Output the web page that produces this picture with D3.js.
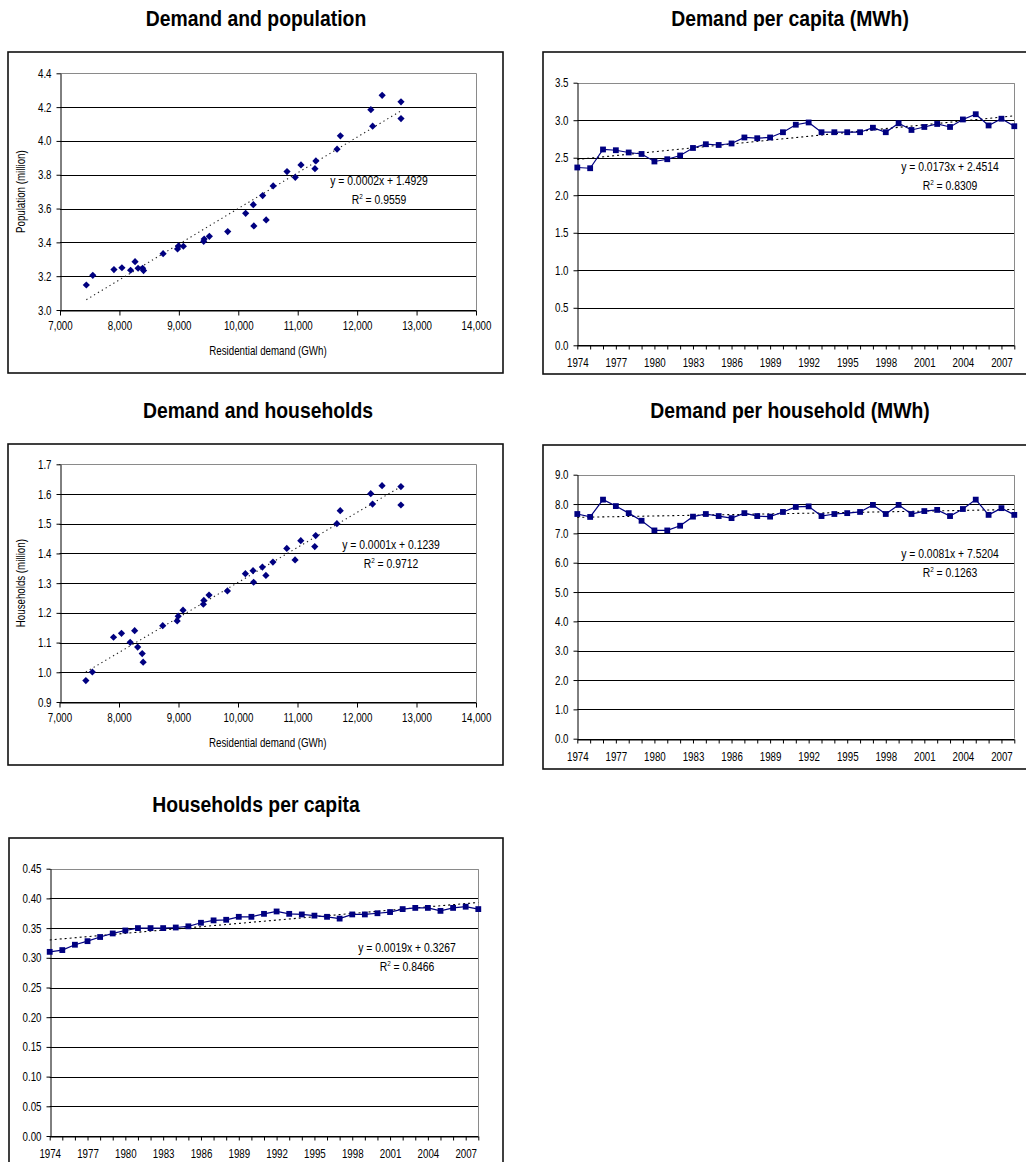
<!DOCTYPE html>
<html>
<head>
<meta charset="utf-8">
<script src="https://cdn.jsdelivr.net/npm/d3@7"></script>
<style>
  body { margin: 0; background: #fff; }
  svg { display: block; }
  text { font-family: "Liberation Sans", Arial, sans-serif; fill: #000; }
</style>
</head>
<body>
<svg id="chart" width="1026" height="1162"></svg>
<script>
// ---- Data -------------------------------------------------------------

// Residential demand (GWh), population and households (million), sorted by demand
const demand = [7443, 7552, 7908, 8042, 8188, 8263, 8314, 8390, 8406, 8735,
                8978, 8995, 9076, 9418, 9426, 9513, 9822, 10124, 10253, 10262,
                10410, 10469, 10587, 10820, 10959, 11055, 11290, 11306, 11662, 11718,
                12231, 12261, 12421, 12738, 12738];
const population = [3.148, 3.205, 3.239, 3.250, 3.235, 3.286, 3.247, 3.247, 3.233, 3.333,
                    3.361, 3.379, 3.377, 3.406, 3.420, 3.436, 3.464, 3.572, 3.623, 3.497,
                    3.677, 3.533, 3.734, 3.819, 3.785, 3.858, 3.836, 3.882, 3.951, 4.030,
                    4.185, 4.087, 4.270, 4.231, 4.132];
const households = [0.972, 1.001, 1.118, 1.131, 1.101, 1.140, 1.085, 1.063, 1.034, 1.157,
                    1.173, 1.189, 1.209, 1.229, 1.242, 1.260, 1.274, 1.332, 1.342, 1.303,
                    1.354, 1.326, 1.371, 1.417, 1.378, 1.443, 1.423, 1.460, 1.500, 1.544,
                    1.601, 1.566, 1.628, 1.625, 1.563];

// Annual series, 1974-2008
const years = [1974, 1975, 1976, 1977, 1978, 1979, 1980, 1981, 1982, 1983,
               1984, 1985, 1986, 1987, 1988, 1989, 1990, 1991, 1992, 1993,
               1994, 1995, 1996, 1997, 1998, 1999, 2000, 2001, 2002, 2003,
               2004, 2005, 2006, 2007, 2008];
const demandPerCapita = [2.37, 2.36, 2.61, 2.60, 2.57, 2.55, 2.45, 2.48, 2.53, 2.63,
                         2.68, 2.67, 2.69, 2.77, 2.76, 2.77, 2.84, 2.94, 2.97, 2.84,
                         2.84, 2.84, 2.84, 2.90, 2.84, 2.96, 2.87, 2.91, 2.95, 2.91,
                         3.01, 3.08, 2.93, 3.02, 2.92];
const demandPerHousehold = [7.66, 7.56, 8.15, 7.93, 7.69, 7.43, 7.10, 7.10, 7.26, 7.57,
                            7.66, 7.59, 7.52, 7.69, 7.59, 7.57, 7.73, 7.90, 7.92, 7.59,
                            7.66, 7.69, 7.73, 7.97, 7.66, 7.97, 7.66, 7.76, 7.80, 7.59,
                            7.83, 8.15, 7.63, 7.86, 7.63];
const householdsPerCapita = [0.310, 0.313, 0.322, 0.328, 0.335, 0.341, 0.346, 0.350, 0.350, 0.350,
                             0.351, 0.353, 0.359, 0.363, 0.364, 0.369, 0.369, 0.374, 0.378, 0.374,
                             0.373, 0.371, 0.369, 0.366, 0.373, 0.373, 0.375, 0.377, 0.382, 0.384,
                             0.384, 0.379, 0.384, 0.386, 0.382];

// Tick values and labels
const demandTicks = [7000, 8000, 9000, 10000, 11000, 12000, 13000, 14000];
const populationTicks = [3.0, 3.2, 3.4, 3.6, 3.8, 4.0, 4.2, 4.4];
const householdTicks = [0.9, 1.0, 1.1, 1.2, 1.3, 1.4, 1.5, 1.6, 1.7];
const perCapitaTicks = [0.0, 0.5, 1.0, 1.5, 2.0, 2.5, 3.0, 3.5];
const perHouseholdTicks = [0.0, 1.0, 2.0, 3.0, 4.0, 5.0, 6.0, 7.0, 8.0, 9.0];
const hhPerCapitaTicks = [0.00, 0.05, 0.10, 0.15, 0.20, 0.25, 0.30, 0.35, 0.40, 0.45];
const yearLabels = [1974, 1977, 1980, 1983, 1986, 1989, 1992, 1995, 1998, 2001, 2004, 2007];

// Trend-line equations as printed on each chart
const eqPopulation = ["y = 0.0002x + 1.4929", "0.9559"];
const eqHouseholds = ["y = 0.0001x + 0.1239", "0.9712"];
const eqPerCapita = ["y = 0.0173x + 2.4514", "0.8309"];
const eqPerHousehold = ["y = 0.0081x + 7.5204", "0.1263"];
const eqHhPerCapita = ["y = 0.0019x + 0.3267", "0.8466"];

// ---- Drawing ----------------------------------------------------------

const svg = d3.select("#chart");
svg.append("rect").attr("width", 1026).attr("height", 1162).attr("fill", "#fff");

const NAVY = "#000080";

// Condensed lettering: squeeze text horizontally about its anchor x
function narrow(sel, s) {
  sel.each(function () {
    const t = d3.select(this);
    const x = +(t.attr("x") || 0);
    t.attr("transform", `translate(${x},0) scale(${s},1) translate(${-x},0)`);
  });
}

// Ordinary least-squares fit, as used for the trend lines
function linearFit(xs, ys) {
  const n = xs.length;
  const mx = d3.mean(xs), my = d3.mean(ys);
  let sxy = 0, sxx = 0;
  for (let i = 0; i < n; i++) { sxy += (xs[i] - mx) * (ys[i] - my); sxx += (xs[i] - mx) ** 2; }
  const m = sxy / sxx;
  return { m, b: my - m * mx };
}

function frame(cfg) {
  const [bx0, by0, bx1, by1] = cfg.box;
  svg.append("rect")
    .attr("x", bx0).attr("y", by0).attr("width", bx1 - bx0).attr("height", by1 - by0)
    .attr("fill", "#fff").attr("stroke", "#111").attr("stroke-width", 1.6);
  svg.append("text")
    .attr("x", cfg.titleX).attr("y", cfg.titleY)
    .attr("text-anchor", "middle")
    .style("font-size", "22px").style("font-weight", "bold")
    .text(cfg.title)
    .call(narrow, 0.88);
}

function gridAndAxes(g, x, y, cfg, xAxis) {
  const [px0, py0, px1, py1] = cfg.plot;
  // horizontal gridlines
  g.append("g").selectAll("line").data(cfg.yTicks).join("line")
    .attr("x1", px0).attr("x2", px1)
    .attr("y1", d => Math.round(y(d)) + 0.5).attr("y2", d => Math.round(y(d)) + 0.5)
    .attr("stroke", "#000").attr("stroke-width", 1);
  // plot-area border (grey)
  g.append("path")
    .attr("d", `M${px0},${Math.round(py0) + 0.5}H${Math.round(px1) + 0.5}V${py1}`)
    .attr("fill", "none").attr("stroke", "#8a8a8a").attr("stroke-width", 1);

  const yAxis = d3.axisLeft(y).tickValues(cfg.yTicks).tickFormat(cfg.yFmt)
    .tickSize(4).tickSizeOuter(0).tickPadding(5);
  const ya = g.append("g").attr("transform", `translate(${Math.round(px0) + 0.5},0)`).call(yAxis);
  const xa = g.append("g").attr("transform", `translate(0,${Math.round(py1) + 0.5})`).call(xAxis);
  [ya, xa].forEach(a => {
    a.attr("font-family", null).attr("font-size", null);
    a.selectAll("path.domain").attr("stroke", "#000");
    a.selectAll(".tick line").attr("stroke", "#000");
    a.selectAll("text").style("font-size", "12.5px").attr("fill", "#000").call(narrow, 0.78);
  });
}

function equation(g, cfg) {
  g.append("text").attr("x", cfg.eqX).attr("y", cfg.eqY).attr("text-anchor", "middle")
    .style("font-size", "13px").text(cfg.eq[0]).call(narrow, 0.8);
  const r = g.append("text").attr("x", cfg.eqX).attr("y", cfg.eqY + 19).attr("text-anchor", "middle")
    .style("font-size", "13px");
  r.append("tspan").text("R");
  r.append("tspan").attr("dy", -5).style("font-size", "8px").text("2");
  r.append("tspan").attr("dy", 5).text(" = " + cfg.eq[1]);
  r.call(narrow, 0.8);
}

function scatterPanel(cfg) {
  frame(cfg);
  const [px0, py0, px1, py1] = cfg.plot;
  const g = svg.append("g");
  const x = d3.scaleLinear().domain([7000, 14000]).range([px0, px1]);
  const y = d3.scaleLinear().domain(d3.extent(cfg.yTicks)).range([py1, py0]);

  const xAxis = d3.axisBottom(x).tickValues(demandTicks).tickFormat(d3.format(","))
    .tickSize(5).tickSizeOuter(0).tickPadding(6);
  gridAndAxes(g, x, y, cfg, xAxis);

  // axis titles
  g.append("text").attr("x", (px0 + px1) / 2).attr("y", py1 + 45)
    .attr("text-anchor", "middle").style("font-size", "12.5px").text(cfg.xLabel)
    .call(narrow, 0.78);
  g.append("text")
    .attr("transform", `translate(${cfg.yLabelX},${(py0 + py1) / 2}) rotate(-90) scale(0.78,1)`)
    .attr("text-anchor", "middle").style("font-size", "12.5px").text(cfg.yLabel);

  // trend line
  const fit = linearFit(cfg.xs, cfg.ys);
  const [xmin, xmax] = d3.extent(cfg.xs);
  g.append("line")
    .attr("x1", x(xmin)).attr("y1", y(fit.m * xmin + fit.b))
    .attr("x2", x(xmax)).attr("y2", y(fit.m * xmax + fit.b))
    .attr("stroke", "#222").attr("stroke-width", 1.1).attr("stroke-dasharray", "1.3,3.2");

  // diamond markers
  const diamond = "M0,-3.6L3.6,0L0,3.6L-3.6,0Z";
  g.append("g").selectAll("path").data(cfg.xs.map((v, i) => [v, cfg.ys[i]])).join("path")
    .attr("d", diamond)
    .attr("transform", d => `translate(${x(d[0])},${y(d[1])})`)
    .attr("fill", NAVY);

  equation(g, cfg);
}

function linePanel(cfg) {
  frame(cfg);
  const [px0, py0, px1, py1] = cfg.plot;
  const g = svg.append("g");
  const x = d3.scalePoint().domain(years).range([px0, px1]).padding(0);
  const y = d3.scaleLinear().domain(d3.extent(cfg.yTicks)).range([py1, py0]);

  const xAxis = d3.axisBottom(x).tickValues(years)
    .tickFormat(d => yearLabels.includes(d) ? String(d) : "")
    .tickSize(4).tickSizeOuter(0).tickPadding(9);
  gridAndAxes(g, x, y, cfg, xAxis);

  // trend line (x = 1 .. n)
  const idx = years.map((d, i) => i + 1);
  const fit = linearFit(idx, cfg.values);
  g.append("line")
    .attr("x1", x(years[0])).attr("y1", y(fit.m * 1 + fit.b))
    .attr("x2", x(years[years.length - 1])).attr("y2", y(fit.m * years.length + fit.b))
    .attr("stroke", "#000").attr("stroke-width", 1.1).attr("stroke-dasharray", "2,3");

  // series line and square markers
  const line = d3.line().x((d, i) => x(years[i])).y(d => y(d));
  g.append("path").datum(cfg.values).attr("d", line)
    .attr("fill", "none").attr("stroke", NAVY).attr("stroke-width", 1.2);
  g.append("g").selectAll("rect").data(cfg.values).join("rect")
    .attr("x", (d, i) => x(years[i]) - 2.9).attr("y", d => y(d) - 2.9)
    .attr("width", 5.8).attr("height", 5.8).attr("fill", NAVY);

  equation(g, cfg);
}

scatterPanel({
  title: "Demand and population", titleX: 256, titleY: 26,
  box: [8, 52, 503, 373], plot: [60, 73.3, 476, 310],
  yTicks: populationTicks, yFmt: d3.format(".1f"),
  xLabel: "Residential demand (GWh)", yLabel: "Population (million)", yLabelX: 25,
  xs: demand, ys: population,
  eq: eqPopulation, eqX: 379, eqY: 185
});

linePanel({
  title: "Demand per capita (MWh)", titleX: 790, titleY: 26,
  box: [543, 52, 1040, 374], plot: [577.3, 82.7, 1014.3, 345.3],
  yTicks: perCapitaTicks, yFmt: d3.format(".1f"),
  values: demandPerCapita,
  eq: eqPerCapita, eqX: 950, eqY: 171
});

scatterPanel({
  title: "Demand and households", titleX: 258, titleY: 418,
  box: [8, 444, 503, 765], plot: [59.5, 464.3, 476, 702],
  yTicks: householdTicks, yFmt: d3.format(".1f"),
  xLabel: "Residential demand (GWh)", yLabel: "Households (million)", yLabelX: 25,
  xs: demand, ys: households,
  eq: eqHouseholds, eqX: 391, eqY: 549
});

linePanel({
  title: "Demand per household (MWh)", titleX: 790, titleY: 418,
  box: [543, 445, 1040, 769], plot: [577.3, 474.7, 1014.3, 738.7],
  yTicks: perHouseholdTicks, yFmt: d3.format(".1f"),
  values: demandPerHousehold,
  eq: eqPerHousehold, eqX: 950, eqY: 558
});

linePanel({
  title: "Households per capita", titleX: 256, titleY: 812,
  box: [9, 838, 503, 1175], plot: [49.7, 868.7, 478.3, 1136],
  yTicks: hhPerCapitaTicks, yFmt: d3.format(".2f"),
  values: householdsPerCapita,
  eq: eqHhPerCapita, eqX: 407, eqY: 952
});
</script>
</body>
</html>
